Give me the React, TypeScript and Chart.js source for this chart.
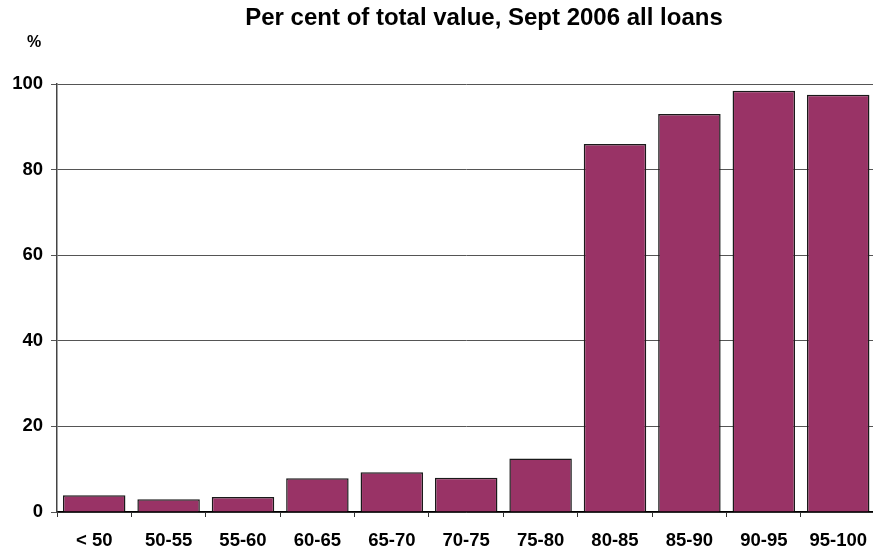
import React, { useEffect, useRef } from "react";
import { Chart, registerables } from "chart.js";

Chart.register(...registerables);

const TITLE = "Per cent of total value, Sept 2006 all loans";
const Y_UNIT = "%";
const CATEGORIES = ["< 50", "50-55", "55-60", "60-65", "65-70", "70-75", "75-80", "80-85", "85-90", "90-95", "95-100"];
const VALUES = [3.9, 3.0, 3.5, 7.9, 9.3, 8.0, 12.5, 86.0, 93.0, 98.4, 97.5];
const Y_TICKS = [0, 20, 40, 60, 80, 100];

const FONT = "'Liberation Sans', Arial, Helvetica, sans-serif";

const textPlugin = {
  id: "titleText",
  afterDraw(chart: any) {
    const ctx = chart.ctx;
    ctx.save();
    ctx.fillStyle = "#000";
    ctx.font = `bold 24px ${FONT}`;
    ctx.textAlign = "center";
    ctx.textBaseline = "alphabetic";
    ctx.fillText(TITLE, 484, 25);
    ctx.font = `bold 16px ${FONT}`;
    ctx.textBaseline = "middle";
    ctx.fillText(Y_UNIT, 34, 43);
    ctx.restore();
  },
};

export default function App() {
  const ref = useRef<HTMLCanvasElement | null>(null);
  useEffect(() => {
    if (!ref.current) return;
    const chart = new Chart(ref.current, {
      type: "bar",
      data: {
        labels: CATEGORIES,
        datasets: [
          {
            data: VALUES,
            backgroundColor: "#993366",
            borderColor: "#1a1a1a",
            borderWidth: 1.5,
            categoryPercentage: 1,
            barPercentage: 0.84,
          },
        ],
      },
      options: {
        responsive: false,
        animation: false,
        layout: { padding: { top: 84, right: 0, bottom: 0, left: 0 } },
        plugins: { legend: { display: false }, tooltip: { enabled: false }, title: { display: false } },
        scales: {
          x: {
            offset: true,
            grid: { offset: true, drawOnChartArea: false, tickLength: 5, color: "#333", lineWidth: 1 },
            border: { color: "#000", width: 1.5 },
            ticks: { color: "#000", font: { family: FONT, size: 18.5, weight: "bold" }, padding: 13, maxRotation: 0, autoSkip: false },
            afterFit(scale: any) { scale.height = 39; },
          },
          y: {
            min: 0,
            max: 100,
            afterBuildTicks(scale: any) { scale.ticks = Y_TICKS.map((v) => ({ value: v })); },
            grid: { color: "#555", lineWidth: 1, tickLength: 6 },
            border: { color: "#444", width: 1.5 },
            ticks: { color: "#000", font: { family: FONT, size: 18.5, weight: "bold" }, padding: 8 },
            afterFit(scale: any) { scale.width = 57; },
          },
        },
      },
      plugins: [textPlugin],
    });
    return () => chart.destroy();
  }, []);
  return (
    <div style={{ position: "fixed", left: 0, top: 0, width: 873, height: 551, overflow: "hidden", background: "#fff" }}>
      <canvas ref={ref} width={880} height={551} style={{ display: "block" }} />
    </div>
  );
}
